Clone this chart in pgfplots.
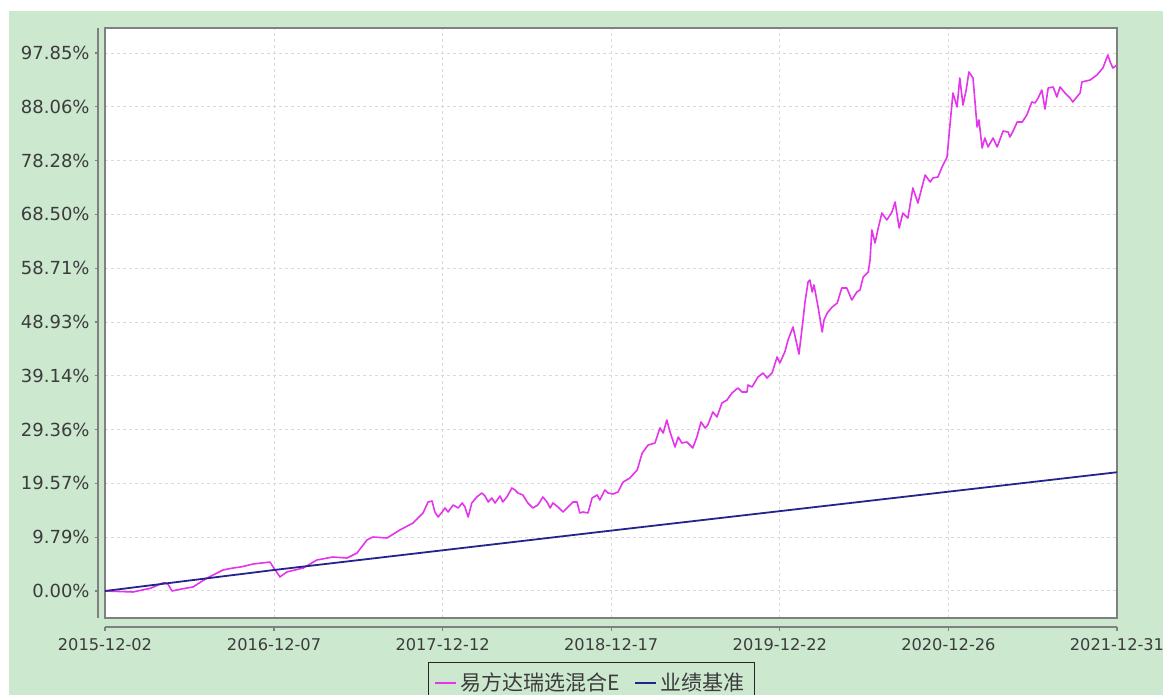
\documentclass[border=0pt]{standalone}
\usepackage{fontspec}
\setmainfont{DejaVu Sans}
\newfontfamily\cjk{Noto Sans CJK SC}
\usepackage{pgfplots}
\pgfplotsset{compat=1.18}
\definecolor{bggreen}{RGB}{204,232,207}
\definecolor{fundmag}{RGB}{228,52,236}
\definecolor{benchnavy}{RGB}{36,36,140}
\definecolor{axgray}{RGB}{128,128,128}
\definecolor{gridgray}{RGB}{218,218,218}
\definecolor{labgray}{RGB}{60,60,60}
\begin{document}
\begin{tikzpicture}[x=0.5pt,y=0.5pt]
\fill[white] (0,0) rectangle (1163,695);
\fill[bggreen] (9,0) rectangle (1163,684);
\begin{axis}[
  at={(52.5pt,38.5pt)}, anchor=south west,
  scale only axis, width=506pt, height=295pt,
  xmin=0, xmax=2221, ymin=-4.91, ymax=102.40,
  axis background/.style={fill=white},
  clip mode=individual,
  axis line style={draw=axgray, line width=0.8pt},
  major tick length=0pt,
  tick style={draw=none},
  grid=major,
  major grid style={draw=gridgray, line width=0.5pt, dash pattern=on 1.5pt off 1.5pt},
  xtick={0,371,741,1111,1481,1851,2221},
  xticklabels={2015-12-02,2016-12-07,2017-12-12,2018-12-17,2019-12-22,2020-12-26,2021-12-31},
  ytick={0,9.785,19.57,29.355,39.14,48.925,58.71,68.495,78.28,88.065,97.85},
  yticklabels={0.00\%,9.79\%,19.57\%,29.36\%,39.14\%,48.93\%,58.71\%,68.50\%,78.28\%,88.06\%,97.85\%},
  ticklabel style={text=labgray},
  yticklabel style={font=\fontsize{9}{10}\selectfont, anchor=east, inner sep=0pt, xshift=-7.5pt},
  xticklabel style={font=\fontsize{8.1}{10}\selectfont, anchor=north, inner sep=0pt, yshift=-10pt},
  legend columns=2,
  legend style={at={(axis description cs:0.4807,-0.0746)}, anchor=north,
    draw=black!85, fill=none, line width=0.6pt, inner xsep=3pt, inner ysep=3pt,
    font=\cjk\fontsize{10.5}{12}\selectfont, text=labgray,
    /tikz/every even column/.append style={column sep=5pt}},
  legend image code/.code={\draw[#1, line width=0.7pt] (0pt,0pt) -- (10.5pt,0pt);},
]
\addplot[fundmag, line width=0.8pt, line join=round] coordinates {
(0,0) (61.5,-0.18) (100,0.5) (127,1.46) (132,1.46) (138,1.27) (147,0) (170,0.4) (193,0.73) (224,2.36)
(259,3.82) (281,4.18) (300,4.4) (325,4.91) (345,5.1) (362,5.27) (369,4.37) (384,2.55) (399,3.46)
(435,4.18) (465,5.64) (500,6.18) (531,6.00) (553,6.91) (575,9.28) (588,9.82)
(619,9.64) (647,11.09) (676,12.37) (698,14.19) (709,16.19) (718,16.37) (720,15.64)
(724,14.37) (731,13.46) (740,14.37) (746,15.10) (753,14.37) (764,15.64) (775,15.10)
(784,16.01) (790,15.28) (797,13.46) (805,16.01) (816,17.10) (827,17.82) (834,17.28)
(841,16.19) (849,16.91) (856,16.01) (867,17.28) (873,16.19) (882,17.10) (893,18.73)
(900,18.37) (906,17.82) (917,17.46) (928,16.01) (939,15.10) (950,15.64) (961,17.10)
(970,16.19) (977,15.10) (983,16.01) (994,15.28) (1005,14.37) (1016,15.28) (1027,16.19)
(1036,16.19) (1042,14.19) (1049,14.37) (1060,14.19) (1069,16.91) (1080,17.46)
(1086,16.55) (1097,18.37) (1104,17.82) (1115,17.64) (1126,18.01) (1137,19.82)
(1152,20.55) (1168,22.01) (1179,25.10) (1192,26.55) (1207,26.92)
(1218,29.65) (1225,28.74) (1233,31.10) (1240,28.92) (1251,26.19) (1258,28.01)
(1266,26.92) (1277,27.10) (1288,26.19) (1290,26.01) (1299,28.01) (1308,30.74)
(1317,29.65) (1323,30.19) (1334,32.56) (1343,31.65) (1354,34.19) (1365,34.74)
(1376,36.01) (1389,36.92) (1398,36.19) (1409,36.19) (1411,37.47) (1420,37.10)
(1433,38.92) (1444,39.65) (1453,38.74) (1464,39.65) (1475,42.56) (1481,41.47)
(1492,43.47) (1499,45.65) (1510,48.02) (1523,43.11) (1532,49.29) (1536,52.38)
(1543,56.20) (1547,56.56) (1552,54.38) (1556,55.66) (1565,51.65) (1574,47.11)
(1578,49.29) (1585,50.56) (1596,51.65) (1607,52.38) (1617,55.11) (1628,55.11)
(1639,52.93) (1650,54.38) (1657,54.75) (1664,57.11) (1675,58.02) (1679,60.20)
(1683,65.66) (1690,63.29) (1697,66.02) (1705,68.75) (1716,67.48) (1727,68.93)
(1734,70.75) (1743,66.02) (1751,68.75) (1762,67.84) (1773,73.30) (1784,70.57)
(1800,75.66) (1811,74.39) (1817,75.12) (1828,75.30) (1837,77.12) (1848,78.94)
(1854,84.39) (1861,90.58) (1870,88.03) (1876,93.30) (1883,88.39) (1890,91.12)
(1896,94.40) (1905,93.30) (1914,84.39) (1918,85.67) (1925,80.57) (1931,82.39)
(1938,80.76) (1949,82.39) (1958,80.76) (1971,83.66) (1982,83.48) (1986,82.57)
(1993,83.66) (2002,85.30) (2013,85.30) (2023,86.57) (2034,88.94) (2041,88.76)
(2048,89.67) (2056,91.12) (2063,87.67) (2070,91.49) (2081,91.67) (2089,89.85)
(2096,91.67) (2107,90.58) (2118,89.67) (2124,88.94) (2140,90.58) (2144,92.58)
(2162,92.94) (2177,93.85) (2190,95.12) (2201,97.49) (2206,96.21) (2212,95.12)
(2221,95.67)
};
\addlegendentry{易方达瑞选混合E}
\addplot[benchnavy, line width=0.9pt] coordinates {
(0,0) (369,3.8) (1102,10.9) (2221,21.6)
};
\addlegendentry{业绩基准}
\draw[axgray, line width=0.75pt] ([xshift=-3.5pt]rel axis cs:0,0) -- ([xshift=-3.5pt]rel axis cs:0,1);
\draw[axgray, line width=0.75pt] ([yshift=-4.5pt]rel axis cs:0,0) -- ([yshift=-4.5pt]rel axis cs:1,0);
\pgfplotsinvokeforeach{0,9.785,19.57,29.355,39.14,48.925,58.71,68.495,78.28,88.065,97.85}{
  \draw[axgray, line width=0.6pt] ([xshift=-3.5pt]axis cs:0,#1) -- ([xshift=-5pt]axis cs:0,#1);
}
\pgfplotsinvokeforeach{0,371,741,1111,1481,1851,2221}{
  \draw[axgray, line width=0.6pt] ([yshift=-4.5pt]axis cs:#1,-4.91) -- ([yshift=-6.5pt]axis cs:#1,-4.91);
}
\end{axis}
\pgfresetboundingbox
\path[use as bounding box] (0,0) rectangle (1163,695);
\end{tikzpicture}
\end{document}
